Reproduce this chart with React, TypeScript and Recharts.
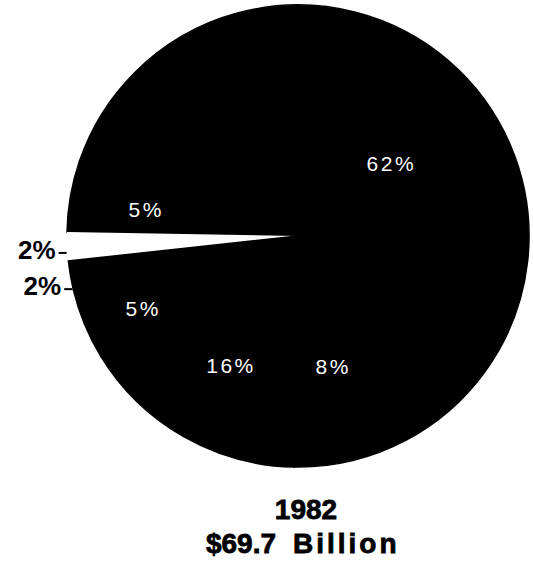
import { PieChart, Pie, Cell } from 'recharts';

// slices in drawing order, counter-clockwise from the "5%" above the white wedge
const categories = ['Upper 5%', 'Wedge 2%', 'Lower 2%', 'Lower 5%', 'Sixteen', 'Eight', 'Main'];
const shares = [5, 2, 2, 5, 16, 8, 62];
const highlighted = 'Wedge 2%';

const titleYear = '1982';
const titleAmount = '$69.7';
const titleUnit = 'Billion';

const pieData = categories.map((name, i) => ({ name, share: shares[i] }));

// label placement per slice: angle nudge from the slice middle (deg) and radius (px)
const labelSpots = [
  { da: 0.3, r: 154, outside: false },
  { da: 1.6, r: 231, outside: true },
  { da: 3.5, r: 231, outside: true },
  { da: 2.8, r: 171, outside: false },
  { da: 2.5, r: 146, outside: false },
  { da: 1.6, r: 136, outside: false },
  { da: -11.7, r: 118, outside: false },
];

const RAD = Math.PI / 180;
const FONT = '"Liberation Sans", Arial, Helvetica, sans-serif';

function renderLabel(props: any) {
  const { cx, cy, midAngle, outerRadius, index, value } = props;
  const spot = labelSpots[index];
  const a = (midAngle + spot.da) * RAD;
  if (spot.outside) {
    const px = cx + outerRadius * Math.cos(a);
    const py = cy - outerRadius * Math.sin(a);
    return (
      <g key={`lbl-${index}`}>
        <line x1={px - 1} y1={py} x2={px - 9} y2={py} stroke="#000" strokeWidth={2} />
        <text x={px - 12} y={py + 6} textAnchor="end" fill="#000" fontFamily={FONT} fontWeight="bold" fontSize={26}>
          {value}%
        </text>
      </g>
    );
  }
  const x = cx + spot.r * Math.cos(a);
  const y = cy - spot.r * Math.sin(a);
  return (
    <text key={`lbl-${index}`} x={x} y={y + 7} textAnchor="middle" fill="#fff" fontFamily={FONT} fontSize={21} letterSpacing={2.5}>
      {value}%
    </text>
  );
}

export default function App() {
  return (
    <div style={{ position: 'absolute', left: 0, top: 0, width: 533, height: 572, background: '#fff' }}>
      <PieChart width={533} height={572} margin={{ top: 0, right: 0, bottom: 0, left: 0 }}>
        <Pie
          data={pieData}
          dataKey="share"
          nameKey="name"
          cx={298}
          cy={236}
          outerRadius={231}
          startAngle={161}
          endAngle={521}
          label={renderLabel}
          labelLine={false}
          isAnimationActive={false}
        >
          {pieData.map((d) => {
            const white = d.name === highlighted;
            return <Cell key={d.name} fill={white ? '#fff' : '#000'} stroke={white ? 'none' : '#000'} strokeWidth={white ? 0 : 1.5} />;
          })}
        </Pie>
      </PieChart>
      <svg width={533} height={572} style={{ position: 'absolute', left: 0, top: 0, pointerEvents: 'none' }}>
        <text x={306} y={519} textAnchor="middle" fontFamily={FONT} fontWeight="bold" fontSize={28} fill="#000" stroke="#000" strokeWidth={0.8}>
          {titleYear}
        </text>
        <text x={276} y={553} textAnchor="end" fontFamily={FONT} fontWeight="bold" fontSize={28} fill="#000" stroke="#000" strokeWidth={0.8}>
          {titleAmount}
        </text>
        <text x={293} y={553} fontFamily={FONT} fontWeight="bold" fontSize={28} letterSpacing={3} fill="#000" stroke="#000" strokeWidth={0.8}>
          {titleUnit}
        </text>
      </svg>
    </div>
  );
}
